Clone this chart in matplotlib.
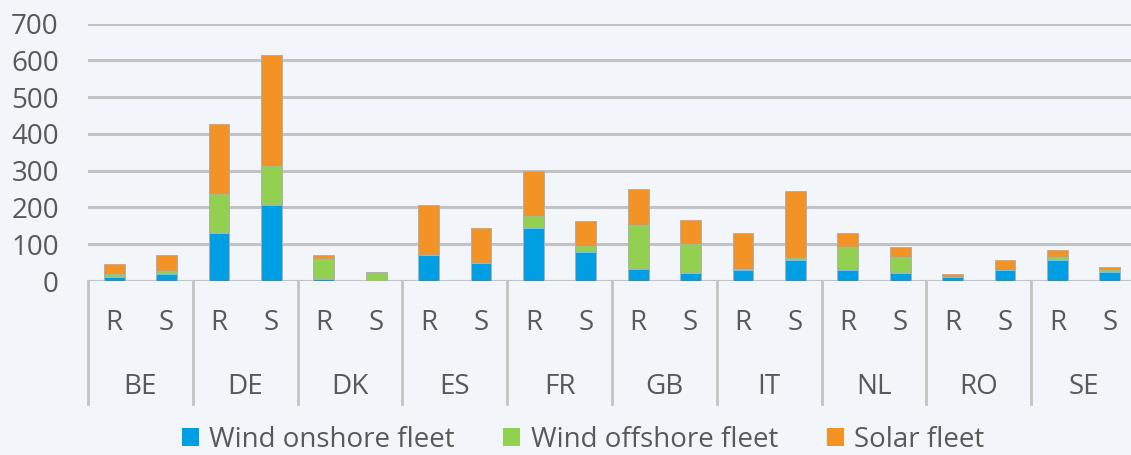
import matplotlib
matplotlib.use("Agg")
import matplotlib.pyplot as plt
import numpy as np

countries = ["BE", "DE", "DK", "ES", "FR", "GB", "IT", "NL", "RO", "SE"]
scenarios = ["R", "S"]
onshore  = [12, 19, 130, 207, 6, 0, 70, 48, 144, 78, 33, 21, 30, 58, 30, 21, 10, 31, 58, 24]
offshore = [7, 8, 108, 105, 54, 22, 0, 0, 33, 18, 120, 81, 3, 5, 62, 45, 0, 0, 7, 6]
solar    = [26, 43, 190, 303, 10, 2, 138, 96, 122, 66, 96, 63, 97, 183, 38, 26, 8, 26, 19, 9]
series_names = ["Wind onshore fleet", "Wind offshore fleet", "Solar fleet"]
colors = ["#009fe3", "#92d050", "#f39325"]
yticks = [0, 100, 200, 300, 400, 500, 600, 700]

plt.rcParams['font.family'] = ['Open Sans', 'DejaVu Sans']
bg = "#f2f6fb"
txt = "#595959"
FS = 20

W, H = 1131, 455
fig = plt.figure(figsize=(W / 100, H / 100), dpi=100, facecolor=bg)
ax_left, ax_right = 88, 1136
ax_bot, ax_top = 281, 23.7
ax = fig.add_axes([ax_left / W, (H - ax_bot) / H, (ax_right - ax_left) / W, (ax_bot - ax_top) / H])
ax.set_facecolor(bg)

n = len(countries) * len(scenarios)
x = np.arange(n)
bottom = np.zeros(n)
handles = []
for vals, c, name in zip([onshore, offshore, solar], colors, series_names):
    b = ax.bar(x, vals, width=0.4, bottom=bottom, color=c, edgecolor="#b0b0b0",
               linewidth=0.7, label=name, zorder=3)
    handles.append(b)
    bottom += np.array(vals)

ax.set_xlim(-0.5, n - 0.5)
ax.set_ylim(0, 700)
ax.set_yticks(yticks)
ax.set_yticklabels([str(v) for v in yticks], fontsize=FS, color=txt)
ax.yaxis.grid(True, color="#c3c3c3", linewidth=2.2, zorder=0)
ax.set_axisbelow(True)
for s in ax.spines.values():
    s.set_visible(False)
ax.tick_params(axis='y', length=0, pad=21)

ax.set_xticks(x)
ax.set_xticklabels(scenarios * len(countries), fontsize=FS, color=txt)
ax.tick_params(axis='x', length=0, pad=20)

trans = ax.get_xaxis_transform()
axh = ax_bot - ax_top
ax.axhline(0, color="#c3c3c3", linewidth=2.2, zorder=2)
for g in range(len(countries)):
    xd = 2 * g - 0.5
    ax.plot([xd, xd], [0, -(404 - ax_bot) / axh], transform=trans, color="#c3c3c3",
            linewidth=2, clip_on=False, zorder=2)
for g, cname in enumerate(countries):
    ax.text(2 * g + 0.5, -(387 - ax_bot) / axh, cname, transform=trans, ha="center",
            va="center", fontsize=FS, color=txt)

leg = fig.legend(handles=handles, labels=series_names, loc="center",
                 bbox_to_anchor=(583 / W, (H - 440) / H), ncol=3, frameon=False,
                 fontsize=FS, handlelength=0.62, handleheight=0.62, handletextpad=0.37,
                 columnspacing=1.75, labelcolor=txt, borderaxespad=0, borderpad=0)
for h in leg.legend_handles:
    h.set_edgecolor("none")

fig.savefig("out.png", dpi=100, facecolor=bg)
